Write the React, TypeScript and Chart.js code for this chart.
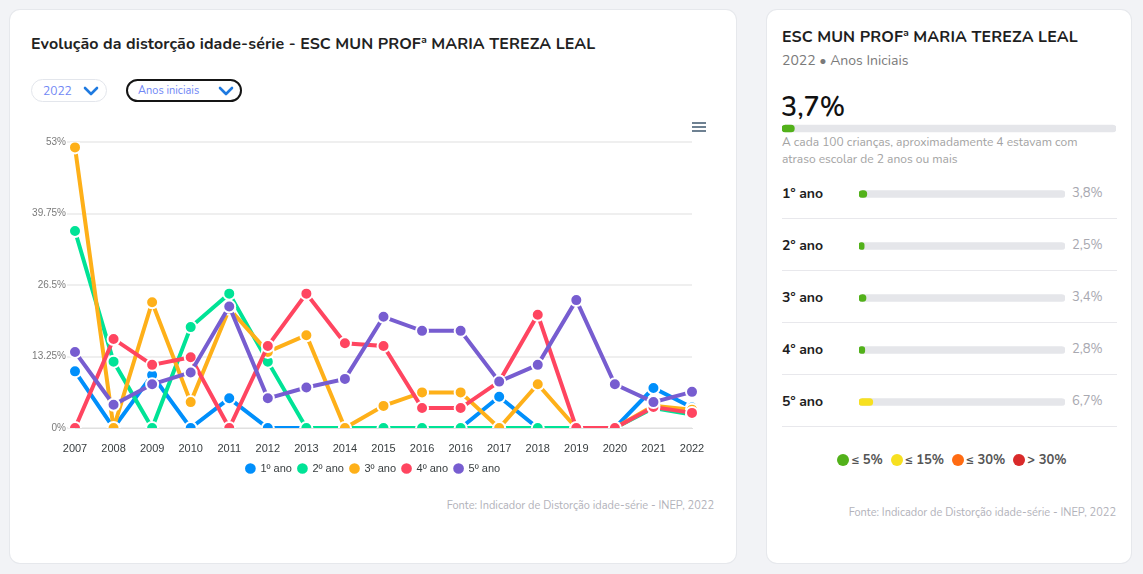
import React, { useEffect, useRef } from 'react';
import { Chart, registerables } from 'chart.js';

Chart.register(...registerables);

// ---------- data ----------
const years = ['2007', '2008', '2009', '2010', '2011', '2012', '2013', '2014', '2015', '2016', '2016', '2017', '2018', '2019', '2020', '2021', '2022'];
const ano1 = [10.5, 0, 9.8, 0, 5.5, 0, 0, 0, 0, 0, 0, 5.8, 0, 0, 0, 7.4, 3.8];
const ano2 = [36.5, 12.3, 0, 18.7, 24.9, 12.3, 0, 0, 0, 0, 0, 0, 0, 0, 0, 3.7, 2.5];
const ano3 = [52, 0, 23.3, 4.8, 22.1, 14.1, 17.2, 0, 4.1, 6.6, 6.6, 0, 8.1, 0, 0, 4.1, 3.4];
const ano4 = [0, 16.5, 11.7, 13.1, 0, 15.2, 24.9, 15.7, 15.2, 3.7, 3.7, 8.6, 21.0, 0, 0, 3.9, 2.8];
const ano5 = [14.1, 4.3, 8.1, 10.3, 22.5, 5.5, 7.5, 9.1, 20.6, 18.0, 18.0, 8.6, 11.7, 23.7, 8.1, 4.8, 6.7];
const seriesNames = ['1º ano', '2º ano', '3º ano', '4º ano', '5º ano'];
const seriesColors = ['#008FFB', '#00E396', '#FEB019', '#FF4560', '#775DD0'];
const yTicks = [0, 13.25, 26.5, 39.75, 53];

const panelGrades = ['1º ano', '2º ano', '3º ano', '4º ano', '5º ano'];
const panelValues = [3.8, 2.5, 3.4, 2.8, 6.7];
const totalLabel = ['Total'];
const totalValue = [3.7];
const bandLabels = ['≤ 5%', '≤ 15%', '≤ 30%', '> 30%'];
const bandLimits = [5, 15, 30, 1000];
const bandColors = ['#52b11a', '#f7e020', '#ff6b12', '#d92a2a'];

const UI_FONT = '"Nunito", "Open Sans", sans-serif';
const CHART_FONT = '"Liberation Sans", Arial, sans-serif';

const fmt = (v: number) => v.toFixed(1).replace('.', ',') + '%';
const bandColor = (v: number) => bandColors[bandLimits.findIndex((l) => v <= l)];

function LineChart() {
  const ref = useRef<HTMLCanvasElement>(null);
  useEffect(() => {
    const series = [ano1, ano2, ano3, ano4, ano5];
    const chart = new Chart(ref.current!, {
      type: 'line',
      data: {
        labels: years,
        datasets: series.map((d, i) => ({
          label: seriesNames[i],
          data: d,
          borderColor: seriesColors[i],
          backgroundColor: seriesColors[i],
          borderWidth: 4,
          pointRadius: 6,
          pointBorderWidth: 2,
          pointBorderColor: '#ffffff',
          pointBackgroundColor: seriesColors[i],
          tension: 0,
          order: 5 - i,
          yAxisID: 'y',
        })),
      },
      options: {
        animation: false,
        responsive: false,
        layout: { padding: { left: 0, right: 0, top: 30, bottom: 0 } },
        plugins: {
          tooltip: { enabled: false },
          legend: {
            position: 'bottom',
            labels: {
              usePointStyle: true,
              pointStyle: 'circle',
              boxWidth: 9,
              boxHeight: 9,
              padding: 6,
              color: '#373d3f',
              font: { family: CHART_FONT, size: 11 },
              sort: (a: any, b: any) => a.datasetIndex - b.datasetIndex,
            },
          },
        },
        scales: {
          x: {
            type: 'category',
            offset: false,
            grid: { display: false, drawTicks: false },
            border: { display: true, color: '#e0e0e0', width: 1 },
            ticks: {
              color: '#373d3f',
              font: { family: CHART_FONT, size: 11 },
              autoSkip: false,
              maxRotation: 0,
              padding: 14,
            },
            afterFit: (s: any) => { s.height = 29; },
          },
          y: {
            position: 'left',
            min: 0,
            max: 53,
            afterBuildTicks: (s: any) => { s.ticks = yTicks.map((v) => ({ value: v })); },
            grid: { color: '#efefef', lineWidth: 2, drawTicks: true, tickLength: 8, tickColor: '#efefef' },
            border: { display: false },
            ticks: {
              color: '#7a7a7a',
              font: { family: CHART_FONT, size: 10 },
              padding: 1,
              callback: (v: any) => v + '%',
            },
            afterFit: (s: any) => { s.width = 55; },
          },
          yRight: {
            position: 'right',
            display: true,
            grid: { display: false, drawTicks: false },
            border: { display: false },
            ticks: { display: false },
            afterFit: (s: any) => { s.width = 34; },
          },
        },
      },
    });
    return () => chart.destroy();
  }, []);
  return <canvas ref={ref} width={706} height={372} style={{ position: 'absolute', left: 10, top: 102, width: 706, height: 372 }} />;
}

function ProgressBars(props: { labels: string[]; values: number[]; width: number; height: number; thickness: number; left: number; top: number }) {
  const ref = useRef<HTMLCanvasElement>(null);
  useEffect(() => {
    const chart = new Chart(ref.current!, {
      type: 'bar',
      data: {
        labels: props.labels,
        datasets: [
          {
            data: props.values,
            backgroundColor: props.values.map(bandColor),
            barThickness: props.thickness,
            borderRadius: 4,
            borderSkipped: false,
            grouped: false,
            order: 0,
          } as any,
          {
            data: props.labels.map(() => 100),
            backgroundColor: '#e5e6ea',
            barThickness: props.thickness,
            borderRadius: 4,
            borderSkipped: false,
            grouped: false,
            order: 1,
          } as any,
        ],
      },
      options: {
        animation: false,
        responsive: false,
        indexAxis: 'y',
        layout: { padding: 0 },
        plugins: { legend: { display: false }, tooltip: { enabled: false } },
        scales: {
          x: { display: false, min: 0, max: 100 },
          y: { display: false },
        },
      },
    });
    return () => chart.destroy();
  }, []);
  return (
    <canvas
      ref={ref}
      width={props.width}
      height={props.height}
      style={{ position: 'absolute', left: props.left, top: props.top, width: props.width, height: props.height }}
    />
  );
}

function Chevron({ left, top }: { left: number; top: number }) {
  return (
    <svg width="16" height="10" style={{ position: 'absolute', left, top }}>
      <polyline points="2,2 8,8 14,2" fill="none" stroke="#1f7ae0" strokeWidth="2.6" strokeLinecap="round" strokeLinejoin="round" />
    </svg>
  );
}

export default function App() {
  const abs = (l: number, t: number, extra: React.CSSProperties = {}): React.CSSProperties => ({ position: 'absolute', left: l, top: t, whiteSpace: 'nowrap', ...extra });
  return (
    <div style={{ position: 'fixed', inset: 0, background: '#f2f3f6', fontFamily: UI_FONT }}>
      {/* left card */}
      <div style={{ position: 'absolute', left: 10, top: 10, width: 726, height: 553, background: '#fff', borderRadius: 10, boxShadow: '0 0 0 1px #e6e8ec' }}>
        <div style={abs(21, 22, { fontSize: 16, fontWeight: 700, color: '#222', lineHeight: '24px', letterSpacing: 0.1 })}>
          Evolução da distorção idade-série - ESC MUN PROFª MARIA TEREZA LEAL
        </div>
        <div style={abs(21, 69, { width: 76, height: 23, boxSizing: 'border-box', border: '1px solid #e3e6ec', borderRadius: 12 })}>
          <span style={abs(11, 3, { fontSize: 12, color: '#7087f5', lineHeight: '16px' })}>2022</span>
          <Chevron left={51} top={6} />
        </div>
        <div style={abs(116, 69, { width: 116, height: 23, boxSizing: 'border-box', border: '2px solid #151515', borderRadius: 12 })}>
          <span style={abs(10, 2, { fontSize: 11, color: '#7087f5', lineHeight: '16px' })}>Anos iniciais</span>
          <Chevron left={90} top={5} />
        </div>
        {/* menu icon */}
        <div style={abs(682, 112, { width: 14 })}>
          {[0, 4, 8].map((t) => (
            <div key={t} style={{ position: 'absolute', top: t, left: 0, width: 14, height: 2, background: '#6e8192' }} />
          ))}
        </div>
        <LineChart />
        <div style={abs(0, 489, { width: 704, textAlign: 'right', fontSize: 11, color: '#b2b2ba', lineHeight: '14px' })}>
          Fonte: Indicador de Distorção idade-série - INEP, 2022
        </div>
      </div>

      {/* right card */}
      <div style={{ position: 'absolute', left: 767, top: 10, width: 364, height: 553, background: '#fff', borderRadius: 10, boxShadow: '0 0 0 1px #e6e8ec' }}>
        <div style={abs(15, 15, { fontSize: 16, fontWeight: 700, color: '#1e1e1e', lineHeight: '24px', letterSpacing: 0.12 })}>ESC MUN PROFª MARIA TEREZA LEAL</div>
        <div style={abs(15, 41, { fontSize: 14, color: '#7a7a7a', lineHeight: '20px' })}>2022 • Anos Iniciais</div>
        <div style={abs(14, 81, { fontSize: 27, fontWeight: 600, color: '#111', lineHeight: '34px' })}>{fmt(totalValue[0])}</div>
        <ProgressBars labels={totalLabel} values={totalValue} width={334} height={9} thickness={7} left={15} top={114} />
        <div style={abs(15, 124, { fontSize: 12, color: '#a3a3a3', lineHeight: '17px' })}>
          A cada 100 crianças, aproximadamente 4 estavam com
          <br />
          atraso escolar de 2 anos ou mais
        </div>
        {panelGrades.map((g, i) => (
          <React.Fragment key={g}>
            <div style={abs(15, 174 + i * 52, { fontSize: 14, fontWeight: 700, color: '#1e1e1e', lineHeight: '20px' })}>{g}</div>
            <div style={abs(305, 174 + i * 52, { fontSize: 13, color: '#a8a8b0', lineHeight: '18px' })}>{fmt(panelValues[i])}</div>
            <div style={{ position: 'absolute', left: 15, top: 208 + i * 52, width: 335, height: 1, background: '#e8e8ec' }} />
          </React.Fragment>
        ))}
        <ProgressBars labels={panelGrades} values={panelValues} width={206} height={260} thickness={7} left={92} top={158} />
        <div style={abs(3, 441, { width: 364, display: 'flex', justifyContent: 'center', gap: 8, fontSize: 13, fontWeight: 700, color: '#555', lineHeight: '18px' })}>
          {bandLabels.map((b, i) => (
            <span key={b} style={{ display: 'flex', alignItems: 'center' }}>
              <span style={{ display: 'inline-block', width: 12, height: 12, borderRadius: 6, background: bandColors[i], marginRight: 2 }} />
              {b}
            </span>
          ))}
        </div>
        <div style={abs(0, 496, { width: 349, textAlign: 'right', fontSize: 11, color: '#b2b2ba', lineHeight: '14px' })}>
          Fonte: Indicador de Distorção idade-série - INEP, 2022
        </div>
      </div>
    </div>
  );
}
